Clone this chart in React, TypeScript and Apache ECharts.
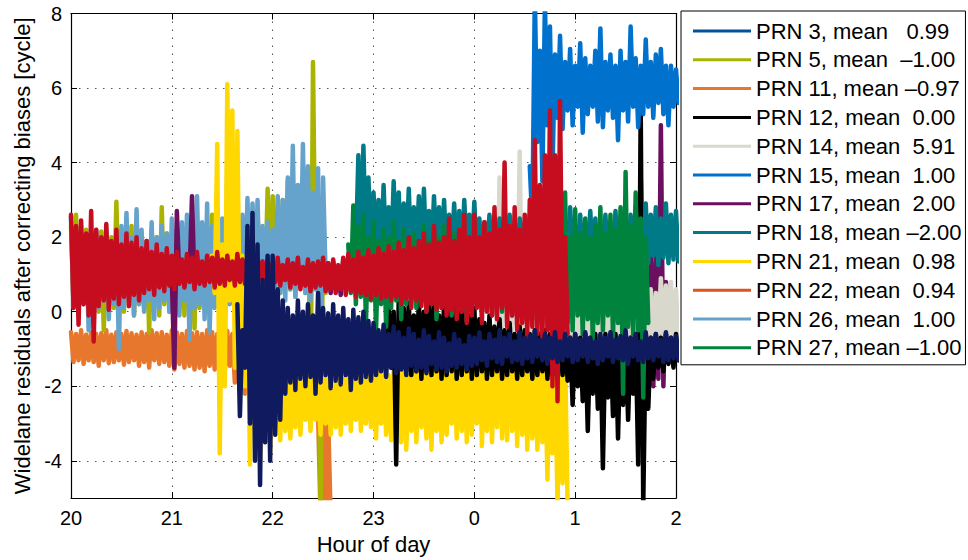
import React, { useEffect, useRef } from 'react';
import * as echarts from 'echarts';

// ---------- axes ----------
const X_MIN = 20;
const X_MAX = 26;
const Y_MIN = -5;
const Y_MAX = 8;
const Y_TICKS = [-4, -2, 0, 2, 4, 6, 8];
const STEP = 0.05; // hours between samples

// ---------- legend ----------
const S = '\u00a0';
const legendNames = ['PRN 3', 'PRN 5', 'PRN 11', 'PRN 12', 'PRN 14', 'PRN 15', 'PRN 17', 'PRN 18', 'PRN 21', 'PRN 22', 'PRN 26', 'PRN 27'];
const legendLabels = [
  `PRN 3, mean ${S}${S}0.99`, `PRN 5, mean ${S}\u20131.00`, 'PRN 11, mean \u20130.97', `PRN 12, mean ${S}0.00`,
  `PRN 14, mean ${S}5.91`, `PRN 15, mean ${S}1.00`, `PRN 17, mean ${S}2.00`, 'PRN 18, mean \u20132.00',
  `PRN 21, mean ${S}0.98`, `PRN 22, mean ${S}0.94`, `PRN 26, mean ${S}1.00`, 'PRN 27, mean \u20131.00',
];
const legendColors = ['#00539a', '#a9b300', '#e8772e', '#000000', '#d9d8cc', '#0072ce', '#6b0f5f', '#007a87', '#ffd800', '#d9541f', '#66a3cc', '#00843d'];

// ---------- series values (upper / lower excursions per 0.05 h sample) ----------
// PRN 11 (orange)
const prn11aStart = 20.0;
const prn11aHi = [-0.55, -0.6, -0.5, -0.62, -0.55, -0.6, -0.58, -0.5, -0.62, -0.55, -0.6, -0.52, -0.58, -0.62, -0.55, -0.6, -0.5, -0.58, -0.55, -0.62, -0.5, -0.56, -0.6, -0.52, -0.58, -0.55, -0.6, -0.5, -0.55, -0.6, -0.58, -0.52, -0.6, -0.7, -0.9];
const prn11aLo = [-1.35, -1.3, -1.4, -1.3, -1.35, -1.45, -1.3, -1.38, -1.35, -1.3, -1.42, -1.35, -1.3, -1.45, -1.35, -1.5, -1.3, -1.4, -1.35, -1.45, -1.55, -1.4, -1.5, -1.45, -1.55, -1.5, -1.6, -1.45, -1.55, -1.5, -1.6, -1.45, -1.9, -2.0, -2.2];
const prn11bStart = 22.45;
const prn11bHi = [-2.7, -2.9, -2.8];
const prn11bLo = [-5.5, -5.5, -5.5];

// PRN 5 (olive)
const prn5Start = 20.0;
const prn5Hi = [2.3, 2.6, 1.9, 2.2, 1.8, 2.1, 2.15, 1.8, 2.0, 2.95, 2.2, 1.9, 2.3, 1.8, 2.1, 1.9, 2.2, 2.0, 2.8, 2.1, 1.9, 2.2, 1.8, 2.3, 2.0, 2.4, 1.9, 2.2, 2.6, 2.0, 2.3, 1.9, 2.5, 2.1, 2.2, 2.4, 2.0, 2.7, 2.2, 3.3, 3.1, 2.6, 3.0, 3.5, 2.8, 3.2, 2.9, 3.8, 6.7, 2.9, 2.5];
const prn5Lo = [0.2, 0.1, 0.3, -0.1, 0.2, 0.0, -0.5, 0.3, 0.1, 0.2, 0.0, 0.3, -0.1, 0.2, 0.1, -0.55, 0.3, -0.1, 0.2, 0.0, 0.3, 0.1, -0.1, 0.2, -0.45, 0.1, 0.3, 0.0, 0.2, 0.1, -0.1, 0.3, 0.2, 0.0, 0.4, 0.2, 0.5, 0.3, 0.6, 0.4, 0.7, 0.5, 0.8, 0.6, 0.4, 0.7, 0.5, -3.1, 0.6, -5.5, 0.5];

// PRN 26 (light blue)
const prn26Start = 20.0;
const prn26Hi = [2.55, 2.1, 2.3, 1.9, 2.0, 2.2, 1.8, 2.2, 1.9, 2.1, 2.3, 2.65, 2.0, 2.75, 2.2, 1.9, 2.4, 2.0, 2.3, 2.1, 2.5, 2.2, 2.4, 2.6, 2.2, 3.1, 2.4, 2.9, 2.3, 2.6, 2.5, 3.85, 2.4, 2.8, 2.6, 3.05, 2.9, 3.0, 2.3, 2.4, 2.2, 3.1, 3.0, 3.6, 4.45, 3.4, 4.5, 3.9, 3.2, 3.85, 3.6];
const prn26Lo = [0.1, -0.1, 0.2, -0.5, -0.35, 0.1, 0.3, -0.2, 0.2, -1.0, 0.1, 0.3, -0.1, 0.2, 0.0, 0.3, -0.2, 0.1, 0.3, 0.0, 0.2, -0.1, 0.3, -0.75, 0.1, 0.2, -0.2, -0.55, 0.1, 0.0, -0.8, 0.2, 0.0, 0.3, 0.2, 0.4, 0.5, 0.3, 0.6, 0.4, 0.7, 0.5, 0.3, 0.6, 0.4, 0.7, 0.5, 0.3, 0.6, -2.6, 1.0];

// PRN 17 (purple)
const prn17aStart = 21.0;
const prn17aHi = [0.9, 2.7, 1.2, 1.0, 3.1];
const prn17aLo = [-1.5, 0.8, 0.7, 0.9, 0.7];
const prn17bStart = 22.55;
const prn17bHi = [1.3, 1.35, 1.2, 1.4];
const prn17bLo = [0.5, 0.6, 0.45, 0.8];
const prn17cStart = 25.5;
const prn17cHi = [2.85, 0.5, 1.0, 3.7, 1.2, 1.5, 1.8, 5.0, 0.8];
const prn17cLo = [-0.6, -0.3, -0.2, -0.5, -1.5, -2.0, -1.8, -2.0, -0.5];

// PRN 14 (grey)
const prn14Start = 24.2;
const prn14Hi = [0.8, 3.6, 1.2, 1.5, 0.9, 4.3, 1.5, 1.0, 0.8, 0.6, 0.9, 0.5, 0.6, 0.7, 0.3, 0.0, 0.2, -0.1, 0.3, 0.1, 0.4, 0.0, 0.2, 0.3, 0.1, 0.4, 0.2, 0.3, 0.5, 0.2, 0.4, 0.6, 0.5, 0.9, 0.7, 0.8, 0.6];
const prn14Lo = [-0.4, -0.5, -0.3, -0.5, -0.4, -0.6, -0.3, -0.5, -0.6, -0.4, -0.5, -0.6, -0.4, -0.5, -0.6, -0.8, -0.7, -0.8, -0.9, -0.7, -0.8, -0.8, -0.7, -0.9, -0.8, -0.7, -0.8, -0.9, -0.8, -0.7, -0.8, -0.9, -0.7, -0.8, -0.6, -0.7, -0.8];

// PRN 21 (yellow)
const prn21Start = 21.4;
const prn21Hi = [1.5, 4.5, 1.8, 6.1, 5.4, 4.85, 1.5, 1.0, 0.5, 0.0, -0.5, -1.0, -0.8, -1.2, -1.3,
  -1.6, -1.8, -1.5, -1.9, -1.7, -1.6, -1.8, -1.5, -1.7, -1.9, -1.6, -1.8, -1.5, -1.7, -1.6, -1.8, -1.5, -1.7, -1.6, -1.4,
  -1.7, -1.5, -1.6, -1.4, -1.7, -1.5, -1.4, -1.6, -1.3, -1.5, -1.4, -1.6, -1.3, -1.5, -1.4, -1.3, -1.2, -1.4, -0.3, -1.2,
  -0.5, -1.1, -0.2, -1.3, -0.4, -1.0, -0.3, -1.2, -0.6, -1.1, -0.8, -1.2, -1.0, -1.3, -1.1, -1.2];
const prn21Lo = [0.5, -3.8, -2.0, 0.3, -1.5, -0.6, -2.0, -4.1, -3.0, -4.0, -3.5, -3.8, -3.0, -3.45, -3.2,
  -3.4, -3.1, -3.3, -2.9, -3.2, -2.9, -3.3, -3.0, -3.3, -3.1, -3.3, -3.0, -3.2, -2.9, -3.2, -3.0, -3.1, -3.4, -3.0, -3.3,
  -3.45, -3.1, -3.5, -3.7, -3.2, -3.5, -3.1, -3.4, -3.7, -3.2, -3.5, -3.3, -3.0, -3.4, -3.2, -3.5, -3.3, -3.0, -3.6, -3.2,
  -3.5, -3.1, -3.4, -3.45, -3.2, -3.6, -3.3, -3.7, -3.4, -3.7, -3.5, -4.5, -3.8, -5.2, -4.6, -5.2];

// PRN 12 (black)
const prn12Start = 23.1;
const prn12Hi = [-0.5, 0.2, 0.0, 0.3, 0.1, 0.25, -0.1, 0.3, 0.0, 0.2, 0.3, -0.1, 0.25, 0.1, 0.3, 0.0, 0.2, -0.1, 0.1, -0.2,
  -0.3, -0.1, -0.4, -0.2, -0.5, -0.3, -0.6, -0.4, -0.5, -0.6, -0.5, -0.6, -0.5, -0.6, -0.5, -0.6, -0.6, -0.7, -0.6, -0.7,
  -0.6, -0.7, -0.6, -0.7, -0.6, -0.7, -0.6, -0.7, -0.6, -0.7, -0.6, 5.5, -0.6, -0.7, -0.6, -0.7, -0.6, -0.7, -0.6];
const prn12Lo = [-1.2, -1.5, -4.1, -1.5, -1.6, -1.7, -1.6, -1.8, -1.6, -1.7, -1.6, -1.8, -1.7, -1.6, -1.8, -1.7, -1.6, -1.8, -1.7, -1.6,
  -1.8, -1.7, -1.6, -1.8, -1.7, -1.6, -1.8, -1.7, -1.6, -1.8, -1.7, -1.6, -1.8, -1.7, -1.6, -1.7, -1.85, -2.5, -2.0, -2.4,
  -3.2, -2.2, -2.6, -4.2, -2.3, -2.8, -3.4, -2.5, -2.9, -2.2, -4.1, -5.2, -2.6, -1.8, -1.5, -1.6, -1.4, -1.5, -1.3];

// PRN 18 (teal)
const prn18Start = 22.8;
const prn18Hi = [2.5, 4.2, 4.45, 3.6, 3.2, 3.0, 3.4, 2.8, 3.5, 3.2, 2.9, 3.3, 2.8, 3.1, 3.3, 2.7, 3.1, 2.8, 3.0, 2.6,
  2.9, 2.7, 3.0, 2.6, 2.95, 2.5, 2.4, 2.6, 2.3, 2.5, 2.4, 2.6, 2.3, 2.5, 2.4, 2.6, 2.3, 2.5, 2.4, 2.6,
  2.3, 2.5, 2.4, 2.8, 2.3, 2.6, 2.4, 2.7, 2.5, 2.3, 2.6, 2.4, 2.7, 2.5, 2.3, 2.6, 2.8, 2.4, 2.9, 2.6, 2.8, 2.5, 2.9, 2.6, 2.7];
const prn18Lo = [1.6, 1.3, 1.5, 1.2, 1.7, 1.4, 1.5, 1.3, 1.6, 1.4, 1.5, 1.2, 1.6, 1.4, 1.3, 1.5, 1.4, 1.6, 1.3, 1.5,
  1.4, 1.2, 1.6, 1.5, 1.3, 1.4, 1.6, 1.3, 1.5, 1.2, 1.4, 1.6, 1.3, 1.5, 1.4, 1.2, 1.6, 1.4, 1.3, 1.5,
  1.4, 1.6, 1.3, 1.5, 1.2, 1.4, 1.6, 1.3, 1.5, 1.4, 1.3, 1.5, 1.25, 1.45, 1.3, 1.5, 1.25, 1.4, 1.3, 1.5, 1.25, 1.45, 1.3, 1.4, 1.35];

// PRN 27 (green)
const prn27Start = 22.75;
const prn27Hi = [1.8, 2.85, 2.3, 2.6, 2.0, 2.4, 1.9, 2.2, 2.0, 2.4, 1.9, 2.2, 1.8, 2.1, 1.9, 2.3, 1.9, 2.2, 2.0, 2.3,
  1.9, 2.1, 1.8, 2.2, 1.9, 2.1, 1.8, 2.0, 1.9, 2.1, 1.8, 2.0, 1.9, 2.1, 1.8, 2.0, 1.9, 2.1, 1.8, 2.0,
  1.9, 2.0, 1.8, 3.2, 2.0, 2.75, 2.1, 2.5, 2.0, 2.3, 2.8, 2.1, 2.6, 2.2, 2.8, 3.75, 2.3, 3.2, 2.5, 2.0];
const prn27Lo = [0.5, 0.2, 0.4, -0.3, 0.3, -0.5, 0.2, -0.4, 0.1, 0.3, -0.2, 0.2, 0.4, 0.1, 0.3, 0.0, 0.2, -0.2, 0.1, 0.3,
  -0.1, 0.2, 0.0, -0.25, 0.1, 0.2, 0.0, 0.1, -0.1, 0.2, 0.0, 0.1, -0.1, 0.2, 0.0, 0.1, -0.2, 0.1, 0.0, -0.1,
  0.1, -0.2, 0.0, -0.3, -0.5, -0.1, -0.6, -0.2, -0.8, -0.3, -0.5, -0.1, -0.7, -0.3, -2.2, -0.4, -0.6, -0.5, -2.3, -0.3];

// PRN 15 (blue)
const prn15Start = 24.55;
const prn15Hi = [3.9, 8.5, 7.0, 8.3, 7.65, 6.9, 7.4, 6.7, 7.05, 6.6, 7.2, 6.8, 6.6, 7.0, 7.6, 6.7, 6.9, 6.6, 7.0, 6.7, 7.65, 6.8, 6.6, 7.3, 6.7, 6.9, 7.05, 6.6, 6.6, 6.5];
const prn15Lo = [2.4, 4.55, 3.5, 5.0, 3.8, 5.2, 4.9, 5.4, 5.0, 5.5, 4.8, 5.3, 5.5, 5.1, 4.95, 5.4, 5.2, 4.6, 5.4, 5.1, 5.5, 4.95, 5.3, 5.5, 5.2, 5.6, 5.3, 5.0, 5.5, 5.6];

// PRN 22 (crimson in the plot)
const prn22Start = 20.0;
const prn22Hi = [2.6, 2.3, 2.45, 2.1, 2.7, 2.2, 2.0, 2.35, 1.9, 2.2, 1.8, 2.1, 1.85, 2.0, 1.7, 1.9, 1.6, 1.8, 1.55, 1.7,
  1.5, 1.6, 1.4, 1.55, 1.45, 1.6, 1.35, 1.5, 1.45, 1.6, 1.4, 1.5, 1.35, 1.55, 1.4, 1.5, 1.3, 1.45, 1.35, 1.4,
  1.3, 1.45, 1.25, 1.4, 1.3, 1.45, 1.2, 1.4, 1.3, 1.35, 1.45, 1.3, 1.4, 1.25, 1.45, 1.55, 1.4, 1.6, 1.45, 1.65,
  1.5, 1.7, 1.55, 1.75, 1.6, 1.85, 1.65, 2.0, 1.7, 1.9, 2.1, 1.8, 2.3, 1.85, 2.0, 2.5, 1.9, 2.2, 2.6, 2.0,
  2.6, 2.0, 2.4, 2.1, 2.8, 2.2, 4.0, 2.3, 2.8, 2.2, 2.6, 3.0, 4.6, 3.4, 4.2, 5.4, 4.2, 5.65, 2.0];
const prn22Lo = [0.1, -0.35, 0.2, -0.1, -0.8, 0.15, 0.3, 0.05, 0.35, 0.2, 0.4, 0.15, 0.45, 0.3, 0.5, 0.6, 0.45, 0.65, 0.55, 0.7,
  0.6, 0.75, 0.65, 0.8, 0.6, 0.75, 0.7, 0.8, 0.65, 0.75, 0.7, 0.85, 0.7, 0.8, 0.75, 0.85, 0.8, 0.9, 0.75, 0.85,
  0.8, 0.7, 0.85, 0.65, 0.75, 0.6, 0.7, 0.55, 0.65, 0.7, 0.55, 0.6, 0.5, 0.6, 0.45, 0.55, 0.4, 0.5, 0.45, 0.35,
  0.45, 0.35, 0.4, 0.3, 0.4, 0.2, 0.35, 0.1, 0.3, 0.15, 0.0, 0.2, 0.05, 0.1, -0.1, 0.05, -0.2, 0.0, -0.3, -0.1,
  0.1, -0.3, 0.0, -0.1, -0.2, 0.1, -0.4, -0.1, -0.5, -0.3, -0.7, -0.4, -0.6, -0.8, -0.5, -2.0, -2.4, -0.9, -0.6];

// PRN 3 (navy in the plot)
const prn3Start = 21.65;
const prn3Hi = [0.2, -0.5, 2.3, 2.65, 1.8, 0.85, 1.5, 1.5, 0.6, 0.3,
  0.1, -0.1, 0.3, 0.0, 0.2, -0.1, 0.5, 0.1, -0.05, 0.2, -0.1, 0.1, -0.2, 0.05, -0.15, 0.0, -0.25,
  -0.3, -0.5, -0.35, -0.6, -0.4, -0.55, -0.7, -0.45, -0.6, -0.75, -0.5, -0.65, -0.8, -0.55, -0.7, -0.85, -0.6, -0.75, -0.9, -0.65,
  -0.7, -0.55, -0.8, -0.6, -0.75, -0.5, -0.7, -0.6, -0.8, -0.55, -0.7, -0.65, -0.5, -0.75, -0.6, -0.7, -0.55, -0.8, -0.6, -0.7,
  -0.6, -0.75, -0.55, -0.7, -0.8, -0.6, -0.7, -0.55, -0.75, -0.65, -0.5, -0.7, -0.6, -0.8, -0.55, -0.7, -0.6, -0.75, -0.55, -0.7, -0.65];
const prn3Lo = [-2.8, -1.5, -3.0, -4.0, -4.65, -3.5, -4.0, -3.3, -2.9, -2.2,
  -1.9, -2.1, -1.8, -2.0, -1.75, -2.2, -1.9, -1.7, -2.05, -1.85, -1.95, -1.7, -2.1, -1.8, -1.9, -1.75, -1.85,
  -1.7, -1.6, -1.75, -1.5, -1.65, -1.55, -1.7, -1.45, -1.6, -1.5, -1.65, -1.4, -1.55, -1.5, -1.6, -1.45, -1.5, -1.4, -1.55, -1.45,
  -1.4, -1.3, -1.45, -1.25, -1.35, -1.4, -1.2, -1.35, -1.3, -1.4, -1.25, -1.35, -1.2, -1.3, -1.4, -1.25, -1.35, -1.3, -1.2, -1.35,
  -1.3, -1.2, -1.35, -1.25, -1.4, -1.3, -1.2, -1.35, -1.25, -1.3, -1.4, -1.2, -1.3, -1.35, -1.25, -1.3, -1.2, -1.35, -1.3, -1.25, -1.3];

// ---------- helpers ----------
type Seg = [number, (number | null)[], (number | null)[]];

function zigzag(segs: Seg[]) {
  const out: (number | null)[][] = [];
  segs.forEach(([t0, hi, lo], k) => {
    if (k > 0) out.push([t0 - STEP / 2, null]);
    const n = Math.min(hi.length, lo.length);
    for (let i = 0; i < n; i++) {
      const t = t0 + i * STEP;
      out.push([t, hi[i]]);
      out.push([t + STEP / 2, lo[i]]);
    }
  });
  return out;
}

const FONT = "'Liberation Sans', Arial, Helvetica, sans-serif";

// draw order (bottom to top) with plot colours
const plotSeries: { name: string; color: string; segs: Seg[] }[] = [
  { name: 'PRN 11', color: '#e8772e', segs: [[prn11aStart, prn11aHi, prn11aLo], [prn11bStart, prn11bHi, prn11bLo]] },
  { name: 'PRN 5', color: '#a9b300', segs: [[prn5Start, prn5Hi, prn5Lo]] },
  { name: 'PRN 26', color: '#66a3cc', segs: [[prn26Start, prn26Hi, prn26Lo]] },
  { name: 'PRN 17', color: '#6b0f5f', segs: [[prn17aStart, prn17aHi, prn17aLo], [prn17bStart, prn17bHi, prn17bLo], [prn17cStart, prn17cHi, prn17cLo]] },
  { name: 'PRN 14', color: '#d9d8cc', segs: [[prn14Start, prn14Hi, prn14Lo]] },
  { name: 'PRN 21', color: '#ffd800', segs: [[prn21Start, prn21Hi, prn21Lo]] },
  { name: 'PRN 12', color: '#000000', segs: [[prn12Start, prn12Hi, prn12Lo]] },
  { name: 'PRN 18', color: '#007a87', segs: [[prn18Start, prn18Hi, prn18Lo]] },
  { name: 'PRN 27', color: '#00843d', segs: [[prn27Start, prn27Hi, prn27Lo]] },
  { name: 'PRN 15', color: '#0072ce', segs: [[prn15Start, prn15Hi, prn15Lo]] },
  { name: 'PRN 22', color: '#c50d1f', segs: [[prn22Start, prn22Hi, prn22Lo]] },
  { name: 'PRN 3', color: '#0f1b5e', segs: [[prn3Start, prn3Hi, prn3Lo]] },
];

export default function App() {
  const ref = useRef<HTMLDivElement>(null);
  useEffect(() => {
    if (!ref.current) return;
    const chart = echarts.init(ref.current, null, { renderer: 'svg' });
    const gridLine = { show: true, lineStyle: { color: '#555', width: 1, type: [1.5, 6.5] as any } };
    const axisLine = { show: true, onZero: false, lineStyle: { color: '#000', width: 1.2 } };
    const tick = { show: true, inside: true, length: 6, lineStyle: { color: '#000', width: 1 } };
    chart.setOption({
      animation: false,
      backgroundColor: '#fff',
      grid: { left: 71, right: 292, top: 13.5, bottom: 57.5, containLabel: false },
      legend: {
        orient: 'vertical',
        left: 681,
        top: 11,
        padding: [9, 4, 6, 12],
        itemGap: 6.8,
        itemWidth: 58,
        itemHeight: 3,
        icon: 'rect',
        backgroundColor: '#fff',
        borderColor: '#000',
        borderWidth: 1,
        borderRadius: 0,
        selectedMode: false,
        textStyle: { fontFamily: FONT, fontSize: 22, color: '#000' },
        formatter: (name: string) => legendLabels[legendNames.indexOf(name)],
        data: legendNames.map((n, i) => ({ name: n, itemStyle: { color: legendColors[i] } })),
      },
      xAxis: [
        {
          type: 'value', min: X_MIN, max: X_MAX, interval: 1, position: 'bottom',
          axisLine, axisTick: tick, splitLine: gridLine,
          axisLabel: {
            fontFamily: FONT, fontSize: 20, color: '#000', margin: 10,
            formatter: (v: number) => String(((v % 24) + 24) % 24),
          },
          name: 'Hour of day', nameLocation: 'middle', nameGap: 33,
          nameTextStyle: { fontFamily: FONT, fontSize: 22, color: '#000' },
        },
        {
          type: 'value', min: X_MIN, max: X_MAX, interval: 1, position: 'top',
          axisLine, axisTick: tick, splitLine: { show: false }, axisLabel: { show: false },
        },
      ],
      yAxis: [
        {
          type: 'value', min: Y_MIN, max: Y_MAX, position: 'left',
          axisLine, axisTick: { ...tick, customValues: Y_TICKS }, splitLine: gridLine,
          axisLabel: { customValues: Y_TICKS, fontFamily: FONT, fontSize: 20, color: '#000', margin: 9 },
          name: 'Widelane residuals after correcting biases [cycle]', nameLocation: 'middle', nameGap: 38,
          nameTextStyle: { fontFamily: FONT, fontSize: 22, color: '#000' },
        },
        {
          type: 'value', min: Y_MIN, max: Y_MAX, position: 'right',
          axisLine, axisTick: { ...tick, customValues: Y_TICKS }, splitLine: { show: false },
          axisLabel: { show: false, customValues: Y_TICKS },
        },
      ],
      series: plotSeries.map((s) => ({
        name: s.name,
        type: 'line',
        xAxisIndex: 0,
        yAxisIndex: 0,
        data: zigzag(s.segs),
        showSymbol: false,
        symbol: 'none',
        clip: true,
        silent: true,
        connectNulls: false,
        color: s.color,
        lineStyle: { color: s.color, width: 4.5, cap: 'round', join: 'round' },
        emphasis: { disabled: true },
      })),
    });
    return () => chart.dispose();
  }, []);
  return <div ref={ref} style={{ position: 'fixed', left: 0, top: 0, width: 968, height: 560 }} />;
}
